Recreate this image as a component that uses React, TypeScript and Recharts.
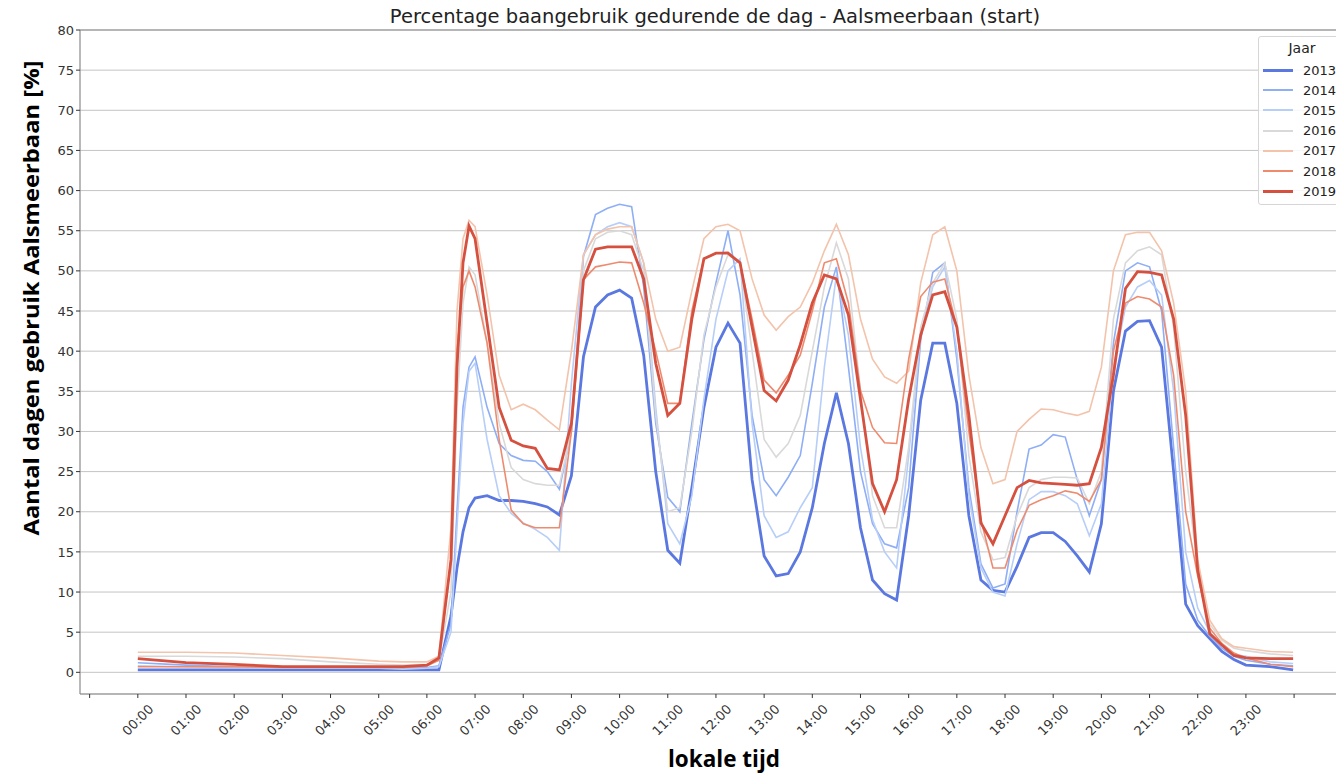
import React from 'react';
import { LineChart, Line, XAxis, YAxis, CartesianGrid, ReferenceLine } from 'recharts';

// uren van de dag (lokale tijd)
const times = [
  0, 1, 2, 3, 4, 5, 5.5, 6,
  6.25, 6.5, 6.625, 6.75, 6.875,
  7, 7.25, 7.5, 7.75, 8, 8.25, 8.5, 8.75, 9, 9.25, 9.5, 9.75,
  10, 10.25, 10.5, 10.75, 11, 11.25, 11.5, 11.75, 12, 12.25, 12.5, 12.75,
  13, 13.25, 13.5, 13.75, 14, 14.25, 14.5, 14.75, 15, 15.25, 15.5, 15.75,
  16, 16.25, 16.5, 16.75, 17, 17.25, 17.5, 17.75, 18, 18.25, 18.5, 18.75,
  19, 19.25, 19.5, 19.75, 20, 20.25, 20.5, 20.75, 21, 21.25, 21.5, 21.75,
  22, 22.25, 22.5, 22.75, 23, 23.5, 23.98,
];

const y2013 = [
  0.3, 0.3, 0.3, 0.3, 0.3, 0.3, 0.3, 0.3,
  0.3, 7, 13, 17.5, 20.5,
  21.7, 22, 21.4, 21.4, 21.3, 21, 20.6, 19.6, 24.5, 39.3, 45.5, 47,
  47.6, 46.6, 39.5, 25, 15.2, 13.6, 23, 33, 40.5, 43.5, 41, 24,
  14.5, 12, 12.3, 15, 20.5, 28.5, 34.8, 28.5, 18, 11.5, 9.8, 9,
  19.5, 33.9, 41, 41, 33.5, 19.5, 11.5, 10.2, 10, 13.2, 16.8, 17.4,
  17.4, 16.3, 14.5, 12.5, 18.5, 35, 42.5, 43.7, 43.8, 40.5, 25, 8.5,
  5.8, 4.2, 2.6, 1.6, 0.9, 0.7, 0.3,
];

const y2014 = [
  1.2, 0.9, 0.7, 0.6, 0.5, 0.5, 0.5, 0.6,
  0.8, 6, 20, 33, 38,
  39.3, 33, 28.5, 27, 26.4, 26.3, 25, 22.8, 30, 51.8, 57, 57.8,
  58.3, 58, 48, 31, 21.8, 20, 31, 41.4, 48.5, 55, 47, 32,
  24, 22, 24.3, 27, 36, 45.5, 50.5, 38, 25, 18.5, 16, 15.5,
  23, 41.4, 49.8, 51, 39, 23, 13.5, 10.5, 11, 20, 27.8, 28.3,
  29.6, 29.3, 24, 19.5, 24, 41, 50, 51, 50.5, 45, 28, 11,
  6.5, 4.5, 3, 2, 1.5, 1.0, 0.8,
];

const y2015 = [
  0.8, 0.7, 0.6, 0.5, 0.5, 0.5, 0.4, 0.5,
  0.7, 5, 18, 31, 37.5,
  38.5, 29, 22, 19.8, 18.6, 17.8, 16.8, 15.2, 36, 52, 54.5, 55.5,
  56, 55.5, 51, 33, 18.5, 16, 22, 34, 44, 50, 51.5, 31,
  19.5, 16.8, 17.5, 20.5, 23, 38, 49.5, 42, 28, 19, 15, 13,
  27, 42, 48, 50.5, 40, 22, 13, 10, 9.5, 16, 21.5, 22.5,
  22.5, 22, 21, 17, 21, 38, 45.5, 48, 48.8, 47, 35, 15,
  8, 5, 3.3, 2.2, 2.0, 1.3, 1.1,
];

const y2016 = [
  2.0, 2.0, 1.9, 1.7, 1.3, 1.0, 0.9, 1.0,
  1.5, 10, 33, 46, 50.5,
  49.5, 41, 31, 25.5, 24, 23.5, 23.3, 23.3, 30, 50, 54, 54.8,
  55, 54.5, 50, 32, 20, 20.5, 30, 42, 48, 52, 51, 40,
  29, 26.8, 28.5, 32, 40, 48, 53.5, 49, 35, 22, 18, 18,
  28, 43, 48.5, 51, 44, 27, 17.5, 14, 14.3, 19.5, 23, 24,
  24.3, 24.3, 24.2, 21, 25, 44, 51, 52.5, 53, 52, 43, 25,
  13, 6, 4, 3, 2.7, 2.3, 2.1,
];

const y2017 = [
  2.5, 2.5, 2.4, 2.1, 1.8, 1.4, 1.3, 1.3,
  2, 18, 45, 54, 56.3,
  55.5, 47, 37, 32.7, 33.4, 32.7, 31.4, 30.2, 40, 52, 54.5, 55.2,
  55.5, 55.5, 51, 44, 40, 40.5, 47.5, 54, 55.5, 55.8, 55, 49,
  44.5, 42.6, 44.3, 45.5, 48.5, 52.5, 55.8, 52, 44, 39, 36.8, 36,
  37.5, 48.5, 54.5, 55.5, 50, 37, 28, 23.5, 24, 30, 31.5, 32.8,
  32.7, 32.3, 32, 32.5, 38, 50, 54.5, 54.8, 54.8, 52.5, 46, 35,
  14, 6.5, 4.2, 3.2, 3.0, 2.6, 2.5,
];

const y2018 = [
  0.7, 0.7, 0.7, 0.6, 0.6, 0.6, 0.6, 0.8,
  1.5, 14, 40, 48, 50,
  48, 41, 29, 20.2, 18.5, 18, 18, 18, 30, 48.9, 50.5, 50.8,
  51.1, 51, 46, 40, 33.5, 33.5, 45, 51.5, 52.2, 52.3, 51, 44,
  36.4, 34.8, 37, 39.5, 45, 51, 51.5, 46, 35.1, 30.5, 28.6, 28.5,
  39, 46.8, 48.6, 49, 43, 30, 19, 13, 13, 17.7, 20.8, 21.5,
  22, 22.6, 22.3, 21.3, 24, 40, 46, 46.8, 46.5, 45.5, 37, 20,
  12, 5.5, 3.6, 2.4, 1.8, 1.0, 0.7,
];

const y2019 = [
  1.7, 1.2, 1.0, 0.7, 0.7, 0.7, 0.7, 0.9,
  1.8, 14, 38, 51, 55.6,
  54, 43.5, 33, 28.9, 28.2, 27.9, 25.4, 25.2, 31, 48.9, 52.7, 53,
  53, 53, 49, 38.5, 32, 33.5, 44, 51.5, 52.2, 52.2, 51, 43,
  35.1, 33.8, 36.4, 40.8, 46, 49.5, 49, 44.5, 34, 23.5, 20, 24,
  34, 42, 47, 47.4, 43, 32, 18.6, 16, 19.5, 23, 23.9, 23.6,
  23.5, 23.4, 23.3, 23.5, 28, 37, 47.8, 49.9, 49.8, 49.5, 44, 32,
  12.7, 4.8, 3.4, 2.1, 1.8, 1.7, 1.7,
];

const years = ['2013', '2014', '2015', '2016', '2017', '2018', '2019'];
const seriesValues = [y2013, y2014, y2015, y2016, y2017, y2018, y2019];
const colors = ['#5a78e0', '#8eaef6', '#b7cef8', '#d9d9d9', '#f3c3ab', '#ee8b6f', '#d5503f'];
const widths = [2.8, 1.6, 1.6, 1.6, 1.6, 1.6, 2.8];

const xTicks = [-1, 0, 1, 2, 3, 4, 5, 6, 7, 8, 9, 10, 11, 12, 13, 14, 15, 16, 17, 18, 19, 20, 21, 22, 23, 24];
const yTicks = [0, 5, 10, 15, 20, 25, 30, 35, 40, 45, 50, 55, 60, 65, 70, 75, 80];

const data = times.map((t, i) => {
  const row: Record<string, number> = { t };
  years.forEach((y, k) => {
    row[y] = seriesValues[k][i];
  });
  return row;
});

const FONT = '"DejaVu Sans", sans-serif';

// labels alleen voor 00:00 t/m 23:00, de buitenste ticks blijven leeg
const HourTick = (props: any) => {
  const { x, y, payload } = props;
  if (payload.value < 0 || payload.value > 23) return <g />;
  const label = String(payload.value).padStart(2, '0') + ':00';
  return (
    <text
      transform={`translate(${x},${y + 20}) rotate(-45)`}
      textAnchor="middle"
      dominantBaseline="central"
      fontSize={13}
      fontFamily={FONT}
      fill="#333"
    >
      {label}
    </text>
  );
};

export default function App() {
  return (
    <div style={{ position: 'absolute', left: 0, top: 0, width: 1336, height: 773, background: '#fff' }}>
      <LineChart width={1336} height={773} data={data} margin={{ top: 30, right: 0, bottom: 0, left: 0 }}>
        <CartesianGrid vertical={false} stroke="#c4c4c4" strokeWidth={1} />
        <XAxis
          dataKey="t"
          type="number"
          domain={[-1.2, 24.87]}
          ticks={xTicks}
          interval={0}
          height={79}
          tick={<HourTick />}
          tickSize={4}
          tickLine={{ stroke: '#333' }}
          axisLine={{ stroke: '#8a8a8a', strokeWidth: 1.2 }}
          allowDataOverflow
        />
        <YAxis
          type="number"
          domain={[-2.7, 80]}
          ticks={yTicks}
          interval={0}
          width={80}
          tickSize={4}
          tickLine={{ stroke: '#333' }}
          axisLine={{ stroke: '#8a8a8a', strokeWidth: 1.2 }}
          tick={{ fontSize: 13, fontFamily: FONT, fill: '#333' }}
          allowDataOverflow
        />
        <ReferenceLine y={80} stroke="#8a8a8a" strokeWidth={1.2} />
        {years.map((y, k) => (
          <Line
            key={y}
            dataKey={y}
            type="linear"
            stroke={colors[k]}
            strokeWidth={widths[k]}
            dot={false}
            activeDot={false}
            isAnimationActive={false}
          />
        ))}
      </LineChart>

      <svg width={1336} height={773} style={{ position: 'absolute', left: 0, top: 0, pointerEvents: 'none' }}>
        <text x={715} y={23} textAnchor="middle" fontSize={19.5} fontFamily={FONT} fill="#222">
          Percentage baangebruik gedurende de dag - Aalsmeerbaan (start)
        </text>
        <text
          transform="translate(39,298) rotate(-90)"
          textAnchor="middle"
          fontSize={22}
          fontWeight="bold"
          fontFamily='"Open Sans", sans-serif'
          fill="#000"
          textLength={475}
          lengthAdjust="spacingAndGlyphs"
        >
          Aantal dagen gebruik Aalsmeerbaan [%]
        </text>
        <text
          x={724}
          y={767}
          textAnchor="middle"
          fontSize={22.5}
          fontWeight="bold"
          fontFamily='"Open Sans", sans-serif'
          fill="#000"
        >
          lokale tijd
        </text>
      </svg>

      <div
        style={{
          position: 'absolute',
          left: 1258,
          top: 36,
          width: 90,
          height: 169,
          border: '1px solid #d6d6d6',
          borderRadius: 3,
          background: 'rgba(255,255,255,0.85)',
          fontFamily: FONT,
          fontSize: 13,
          color: '#222',
          boxSizing: 'border-box',
        }}
      >
        <div style={{ position: 'absolute', left: 0, width: 86, top: 3, textAlign: 'center', fontSize: 14 }}>Jaar</div>
        {years.map((y, k) => (
          <div key={y} style={{ position: 'absolute', left: 4, top: 25 + k * 20.2, height: 16, display: 'flex', alignItems: 'center' }}>
            <div style={{ width: 30, height: 0, borderTop: `${widths[k] > 2 ? 3 : 2}px solid ${colors[k]}` }} />
            <span style={{ marginLeft: 10 }}>{y}</span>
          </div>
        ))}
      </div>
    </div>
  );
}
